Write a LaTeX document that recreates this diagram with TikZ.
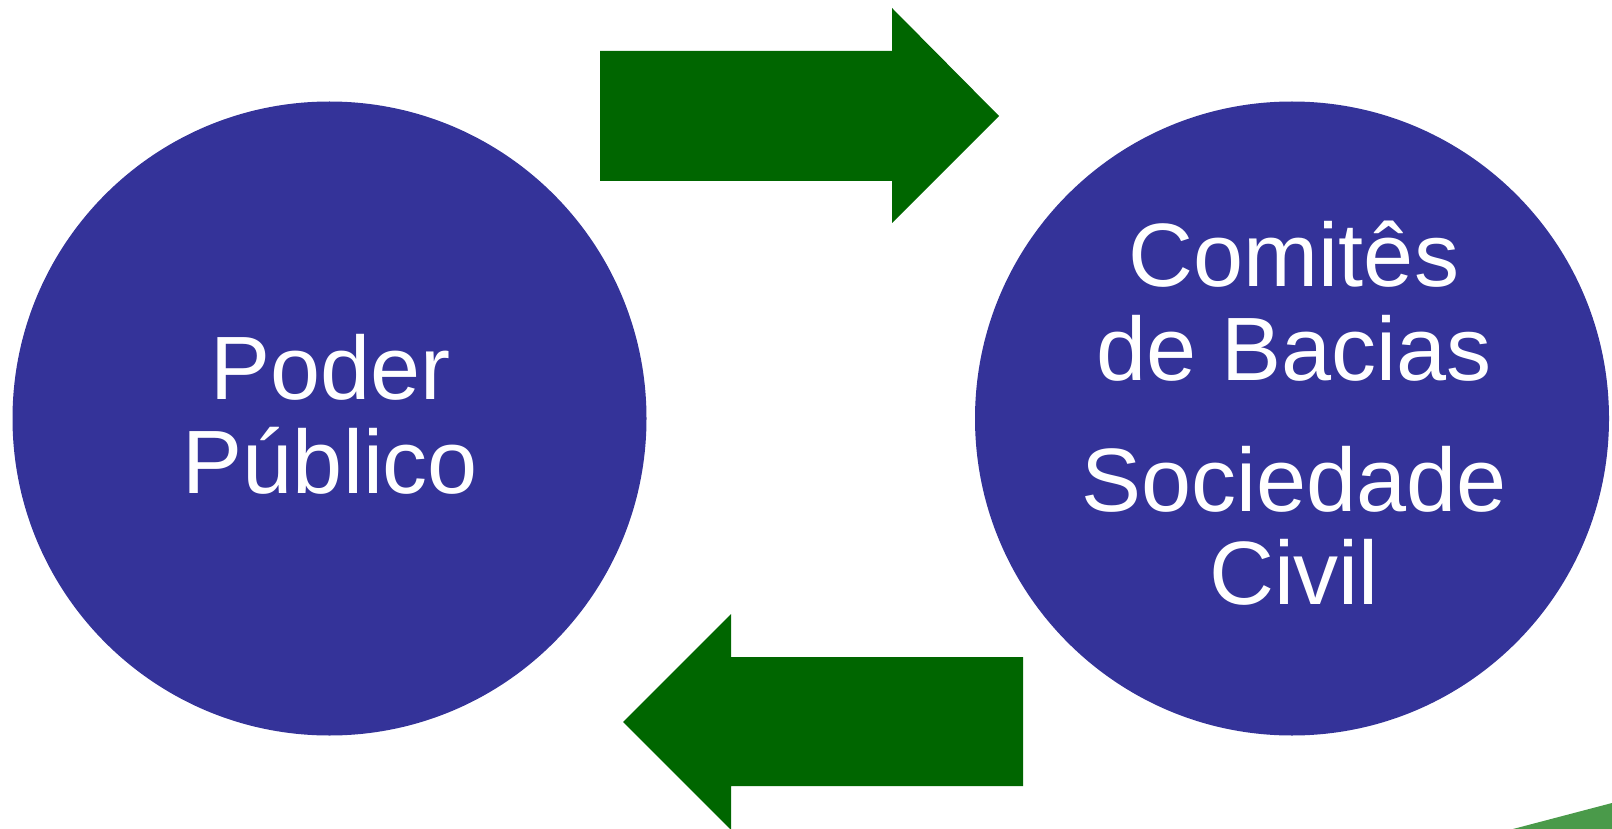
\documentclass[tikz,border=0pt]{standalone}
\usepackage{fontspec}
\setmainfont{Liberation Sans}
\usetikzlibrary{calc}
\definecolor{circblue}{HTML}{343399}
\definecolor{arrowgreen}{HTML}{006600}
\definecolor{cornergreen}{HTML}{4A9A4A}

\begin{document}
\begin{tikzpicture}[x=1pt, y=-1pt,
    bigtext/.style={text=white, inner sep=0pt, anchor=base,
      font=\fontsize{90}{95}\selectfont}]
      \useasboundingbox (0, 0) rectangle (1612, 829);

      % the two circles
      \node [draw=none, circle, fill=circblue, minimum size=634pt, name=poder] at (329.5, 418.5) {};
      \node [draw=none, circle, fill=circblue, minimum size=634pt, name=comites] at (1292, 418.5) {};

      \node [bigtext, name=p1] at ($(poder) + (1, -19.5)$) {Poder};
      \node [bigtext, name=p2] at ($(poder) + (1, 74.5)$) {Público};

      \node [bigtext, name=c1] at ($(comites) + (2, -131.5)$) {Comitês};
      \node [bigtext, name=c2] at ($(comites) + (2, -38.5)$) {de Bacias};
      \node [bigtext, name=c3] at ($(comites) + (2, 92.5)$) {Sociedade};
      \node [bigtext, name=c4] at ($(comites) + (2, 185.5)$) {Civil};

      % arrows
      \fill [arrowgreen] (600, 51) -- (892, 51) -- (892, 8) -- (999, 116)
      -- (892, 223) -- (892, 181) -- (600, 181) -- cycle;
      \fill [arrowgreen] (1023, 657) -- (731, 657) -- (731, 614) -- (623, 722)
      -- (731, 830) -- (731, 786) -- (1023, 786) -- cycle;

      % corner
      \fill [cornergreen] (1513, 829) -- (1612, 803) -- (1612, 829) -- cycle;
    \end{tikzpicture}
\end{document}
